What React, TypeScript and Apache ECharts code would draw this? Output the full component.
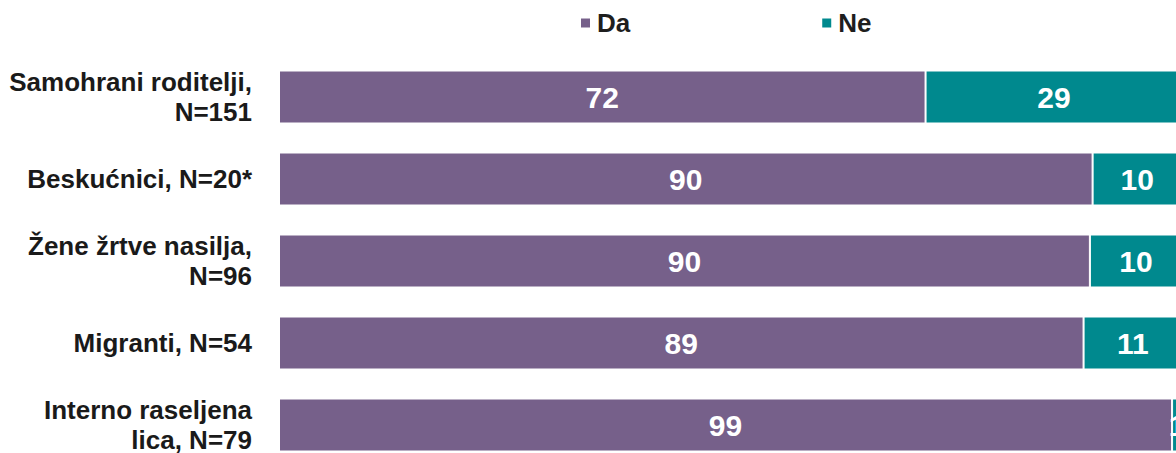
import React, { useEffect, useRef } from "react";
import * as echarts from "echarts";

const categories = [
  "Samohrani roditelji,\nN=151",
  "Beskućnici, N=20*",
  "Žene žrtve nasilja,\nN=96",
  "Migranti, N=54",
  "Interno raseljena\nlica, N=79",
];
const daValues = [71.6, 90.1, 89.8, 89.1, 98.9];
const neValues = [28.6, 9.9, 10.2, 10.9, 1.1];
const seriesNames = ["Da", "Ne"];
const colors = ["#76608A", "#00898E"];

export default function App() {
  const ref = useRef<HTMLDivElement>(null);
  useEffect(() => {
    if (!ref.current) return;
    const chart = echarts.init(ref.current, null, { renderer: "svg" });
    const font = "'Liberation Sans', Arial, sans-serif";
    const labelCfg = {
      show: true,
      position: "inside",
      color: "#ffffff",
      fontSize: 30,
      fontWeight: "bold",
      fontFamily: font,
      formatter: (p: any) => String(Math.round(p.value)),
    };
    chart.setOption({
      animation: false,
      color: colors,
      legend: {
        data: seriesNames,
        left: 579,
        top: 10,
        padding: 0,
        itemWidth: 11,
        itemHeight: 11,
        itemGap: 190,
        icon: "rect",
        textStyle: {
          fontSize: 26,
          fontWeight: "bold",
          fontFamily: font,
          color: "#1e1e1e",
          lineHeight: 26,
          padding: [0, 0, 0, 1],
        },
      },
      grid: { left: 279, top: 56, width: 903, height: 410 },
      xAxis: {
        type: "value",
        min: 0,
        max: 100,
        show: false,
      },
      yAxis: {
        type: "category",
        data: categories,
        inverse: true,
        axisLine: { show: false },
        axisTick: { show: false },
        splitLine: { show: false },
        axisLabel: {
          margin: 27,
          fontSize: 26,
          lineHeight: 30,
          fontWeight: "bold",
          fontFamily: font,
          color: "#1a1a1a",
          align: "right",
        },
      },
      series: [
        {
          name: seriesNames[0],
          type: "bar",
          stack: "total",
          data: daValues,
          barWidth: 53,
          itemStyle: { color: colors[0], borderColor: "#ffffff", borderWidth: 1 },
          label: labelCfg,
        },
        {
          name: seriesNames[1],
          type: "bar",
          stack: "total",
          data: neValues,
          barWidth: 53,
          itemStyle: { color: colors[1], borderColor: "#ffffff", borderWidth: 1 },
          label: labelCfg,
        },
      ],
    });
    return () => chart.dispose();
  }, []);
  return (
    <div
      style={{
        position: "fixed",
        left: 0,
        top: 0,
        width: 1176,
        height: 453,
        overflow: "hidden",
        background: "#ffffff",
      }}
    >
      <div ref={ref} style={{ width: 1200, height: 480 }} />
    </div>
  );
}
